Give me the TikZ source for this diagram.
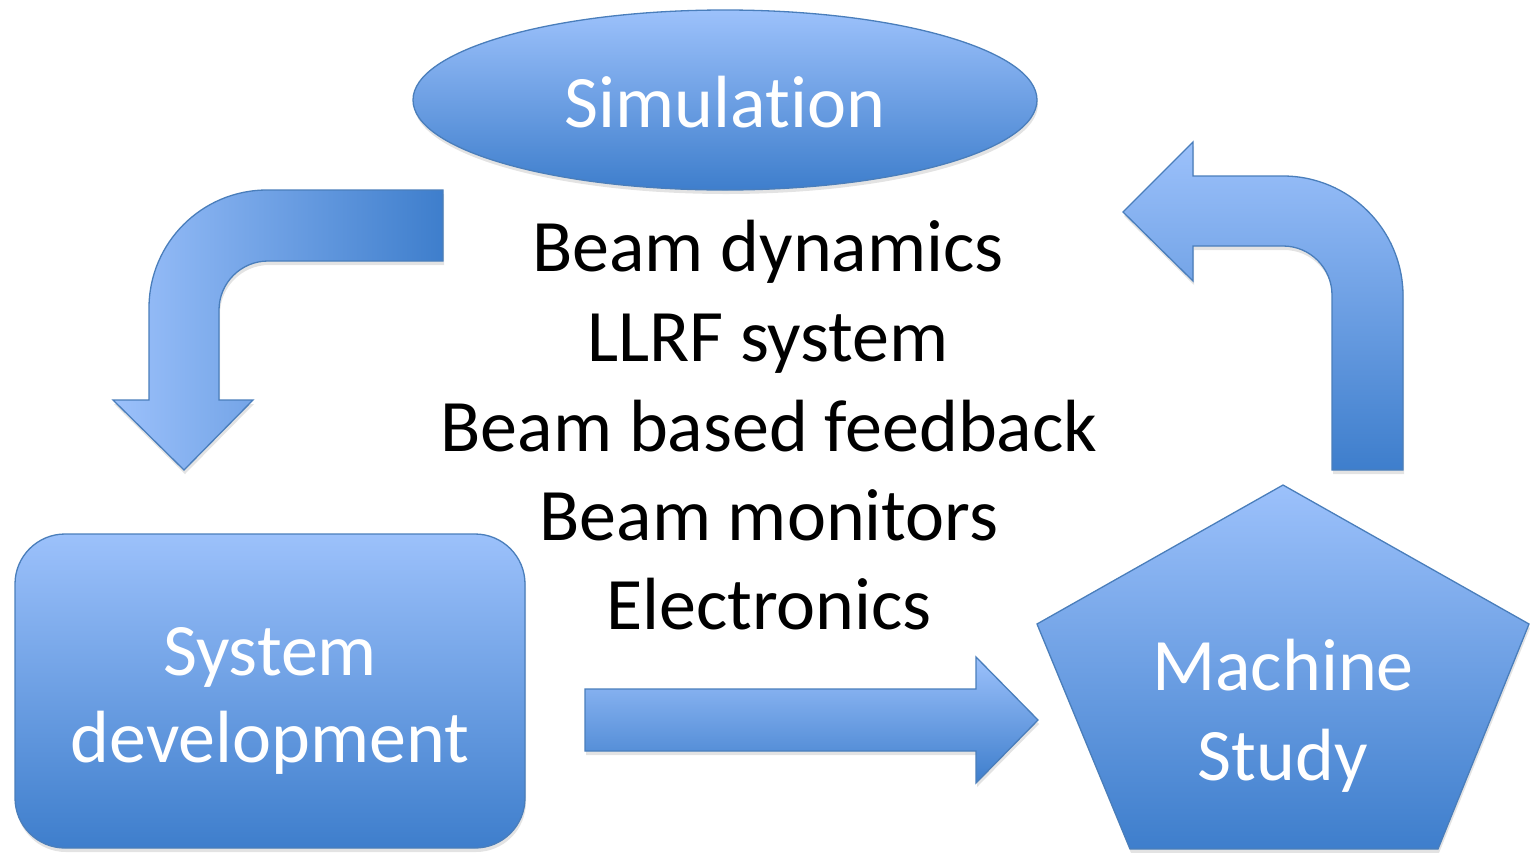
\documentclass[tikz,border=0pt]{standalone}
\usepackage{fontspec}
\setmainfont{Carlito}[Ligatures={NoCommon}]
\usetikzlibrary{shadows}
\definecolor{lightb}{HTML}{9CC1FB}
\definecolor{darkb}{HTML}{3E7ECC}
\definecolor{edgeb}{HTML}{4A7EBB}
\tikzset{
  shadowed/.style={drop shadow={opacity=0.22, shadow xshift=1pt, shadow yshift=-4pt}},
  vshape/.style={draw=edgeb, line width=1.3pt, top color=lightb, bottom color=darkb, shadowed},
  hshape/.style={draw=edgeb, line width=1.3pt, left color=lightb, right color=darkb, shadowed},
  lbl/.style={text=white, font=\fontsize{74}{90}\selectfont, anchor=base, inner sep=0pt},
  topic/.style={text=black, font=\fontsize{74}{90}\selectfont, anchor=base, inner sep=0pt}
}
\begin{document}
\begin{tikzpicture}[x=1pt,y=-1pt]
\useasboundingbox (0,0) rectangle (1530,852);
% shapes
\path[vshape] (725,100) ellipse [x radius=312pt, y radius=90pt];
\path[vshape, rounded corners=50pt] (15,534) rectangle (525,848);
\path[vshape] (1283,485) -- (1529,624) -- (1438,849) -- (1130,849) -- (1037,624) -- cycle;
% block arrows
\path[hshape] (443,190) -- (267,190) .. controls (201.8,190) and (149,242.9) .. (149,308)
  -- (149,400) -- (113,400) -- (184,470) -- (253,400) -- (219,400) -- (219,310)
  .. controls (219,283) and (241,261) .. (268,261) -- (443,261) -- cycle;
\path[vshape] (1123,212) -- (1193,142) -- (1193,176) -- (1283,176)
  .. controls (1349.2,176) and (1403,229.8) .. (1403,296) -- (1403,470) -- (1332,470)
  -- (1332,295) .. controls (1332,268) and (1310,246) .. (1283,246) -- (1193,246)
  -- (1193,281) -- cycle;
\path[vshape] (585,689) -- (976,689) -- (976,657) -- (1038,720) -- (976,783)
  -- (976,751) -- (585,751) -- cycle;
% labels
\node[lbl] (sim) at (725,127) {Simulation};
\node[lbl] (sys1) at (270,675) {System};
\node[lbl] (sys2) at (270,762) {development};
\node[lbl] (mac1) at (1283,690) {Machine};
\node[lbl] (mac2) at (1283,780) {Study};
\node[topic] (t1) at (768,271) {Beam dynamics};
\node[topic] (t2) at (768,361) {LLRF system};
\node[topic] (t3) at (769,451) {Beam based feedback};
\node[topic] (t4) at (769,540) {Beam monitors};
\node[topic] (t5) at (769,629) {Electronics};
\end{tikzpicture}
\end{document}
